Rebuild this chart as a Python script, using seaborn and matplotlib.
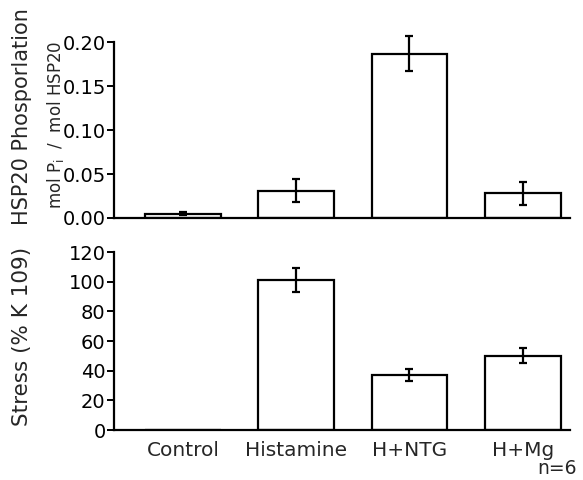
import numpy as np
import pandas as pd
import matplotlib
matplotlib.use("Agg")
import matplotlib.pyplot as plt
import seaborn as sns

# Data
groups = ["Control", "Histamine", "H+NTG", "H+Mg"]
phos_mean = [0.005, 0.031, 0.187, 0.028]
phos_err = [0.002, 0.013, 0.020, 0.013]
stress_mean = [0.0, 101.0, 37.0, 50.0]
stress_err = [0.0, 8.0, 4.0, 5.0]

sns.set_style("white")
plt.rcParams["font.family"] = ["DejaVu Sans"]
plt.rcParams["font.size"] = 14

df_phos = pd.DataFrame({"group": groups, "value": phos_mean})
df_stress = pd.DataFrame({"group": groups, "value": stress_mean})

fig = plt.figure(figsize=(5.83, 4.8), dpi=100)
ax1 = fig.add_axes([0.1955, 0.546, 0.7825, 0.366])
ax2 = fig.add_axes([0.1955, 0.104, 0.7825, 0.371])

for ax, df, err in [(ax1, df_phos, phos_err), (ax2, df_stress, stress_err)]:
    sns.barplot(data=df, x="group", y="value", ax=ax, color="white",
                edgecolor="black", linewidth=1.6, width=0.67, errorbar=None)
    x = np.arange(len(groups))
    vals = df["value"].values
    show = np.array(err) > 0
    ax.errorbar(x[show], vals[show], yerr=np.array(err)[show], fmt="none",
                ecolor="black", elinewidth=1.6, capsize=3, capthick=1.6,
                clip_on=False)
    ax.set_xlim(-0.61, 3.42)
    ax.set_xlabel("")
    ax.set_ylabel("")
    for s in ["top", "right"]:
        ax.spines[s].set_visible(False)
    for s in ["left", "bottom"]:
        ax.spines[s].set_color("black")
        ax.spines[s].set_linewidth(1.6)
    ax.tick_params(axis="y", direction="out", length=5, width=1.4, left=True,
                   labelsize=14, pad=1, colors="black")
    ax.tick_params(axis="x", length=0)

ax1.set_ylim(0, 0.20)
ax1.set_yticks([0.00, 0.05, 0.10, 0.15, 0.20])
ax1.set_yticklabels(["0.00", "0.05", "0.10", "0.15", "0.20"])
ax1.set_xticklabels([])

ax2.set_ylim(0, 120)
ax2.set_yticks([0, 20, 40, 60, 80, 100, 120])
ax2.set_xticklabels(groups, fontsize=14.5)
ax2.tick_params(axis="x", pad=8)

# outer labels
fig.text(0.037, 0.757, "HSP20 Phosporlation", rotation=90, ha="center",
         va="center", fontsize=15)
fig.text(0.037, 0.30, "Stress (% K 109)", rotation=90, ha="center",
         va="center", fontsize=15.5)
# inner unit label of the upper panel
fig.text(0.095, 0.74, r"mol P$_\mathregular{i}$  /  mol HSP20", rotation=90,
         ha="center", va="center", fontsize=12)

fig.text(0.99, 0.024, "n=6", ha="right", va="center", fontsize=13.5)

fig.savefig("out.png", dpi=100, facecolor="white")
